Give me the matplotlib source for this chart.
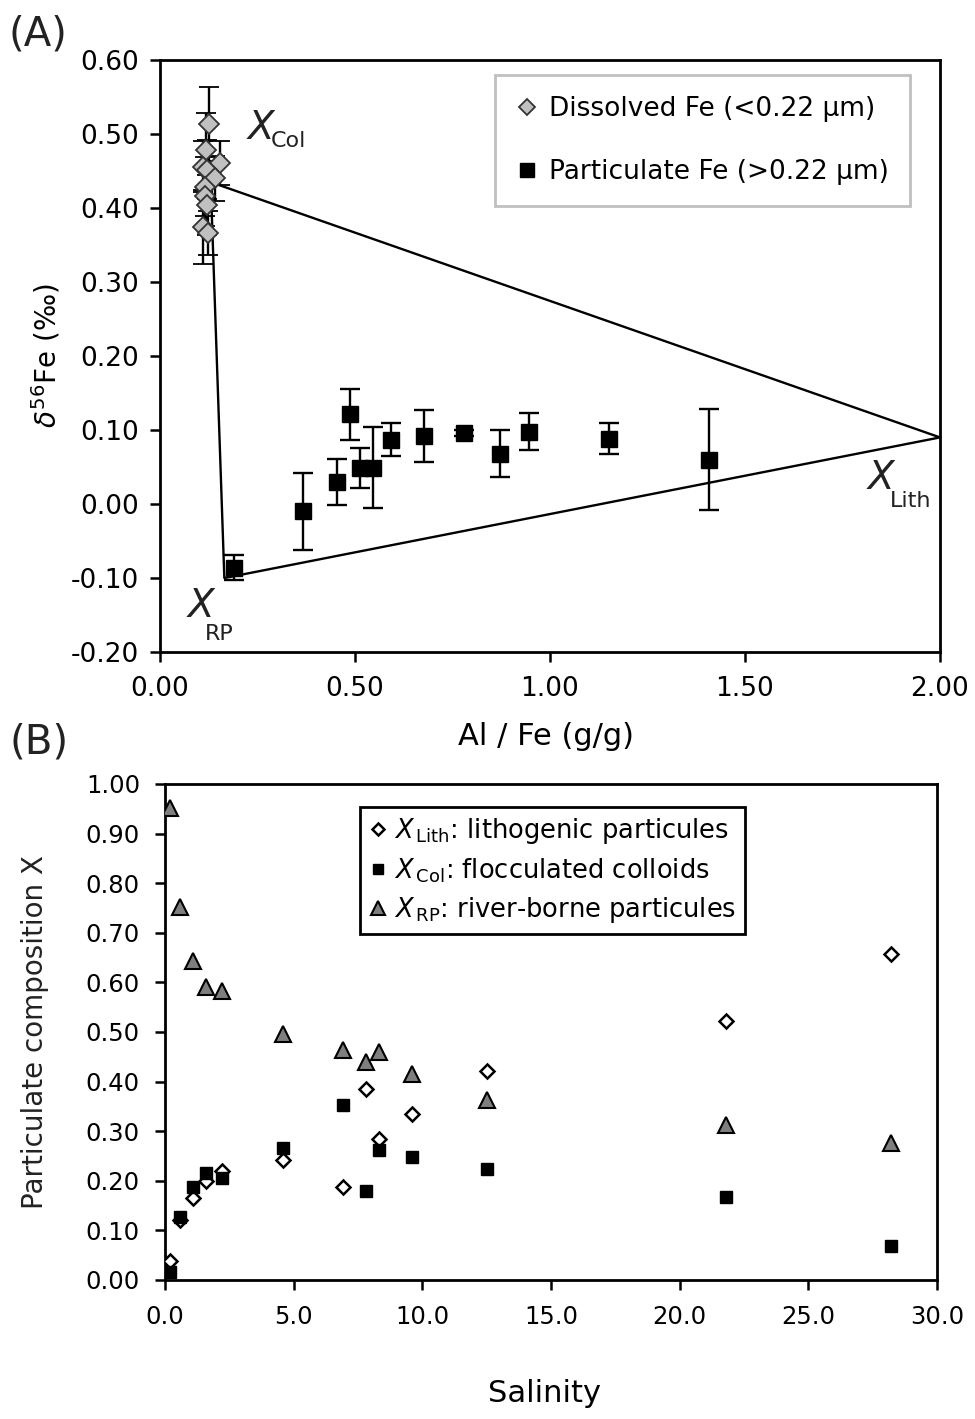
import matplotlib
matplotlib.use("Agg")
import matplotlib.pyplot as plt
from matplotlib.lines import Line2D

plt.rcParams['font.family'] = ['DejaVu Sans']

# panel A: dissolved Fe (diamonds)
diss_alfe = [0.126, 0.118, 0.154, 0.111, 0.120, 0.141, 0.115, 0.115, 0.120, 0.111, 0.124]
diss_d56 = [0.513, 0.479, 0.461, 0.456, 0.452, 0.440, 0.429, 0.416, 0.404, 0.375, 0.366]
diss_err = [0.050, 0.050, 0.030, 0.035, 0.040, 0.030, 0.040, 0.040, 0.040, 0.050, 0.030]

# panel A: particulate Fe (squares)
part_alfe = [0.19, 0.366, 0.455, 0.488, 0.513, 0.547, 0.593, 0.678, 0.780, 0.873, 0.946, 1.152, 1.408]
part_d56 = [-0.086, -0.010, 0.030, 0.121, 0.049, 0.049, 0.087, 0.092, 0.096, 0.068, 0.098, 0.088, 0.060]
part_err = [0.017, 0.052, 0.031, 0.035, 0.027, 0.055, 0.022, 0.035, 0.004, 0.032, 0.025, 0.021, 0.068]

# mixing triangle end-members
end_names = ['Col', 'Lith', 'RP']
end_alfe = [0.13, 2.00, 0.165]
end_d56 = [0.435, 0.090, -0.100]

# panel B: composition vs salinity
salinity = [0.2, 0.6, 1.1, 1.6, 2.2, 4.6, 6.9, 7.8, 8.3, 9.6, 12.5, 21.8, 28.2]
x_lith = [0.039, 0.121, 0.166, 0.200, 0.220, 0.241, 0.188, 0.384, 0.285, 0.334, 0.421, 0.523, 0.657]
x_col = [0.015, 0.127, 0.187, 0.215, 0.205, 0.267, 0.352, 0.180, 0.262, 0.248, 0.223, 0.168, 0.068]
x_rp = [0.952, 0.751, 0.644, 0.590, 0.583, 0.496, 0.463, 0.439, 0.459, 0.416, 0.362, 0.312, 0.276]

fig = plt.figure(figsize=(9.75, 14.19), dpi=100)
ax1 = fig.add_axes([0.1641, 0.5405, 0.800, 0.4172])
ax2 = fig.add_axes([0.1692, 0.0980, 0.7918, 0.3495])

# ---- panel A ----
tri_x = end_alfe + [end_alfe[0]]
tri_y = end_d56 + [end_d56[0]]
ax1.plot(tri_x, tri_y, color='black', lw=1.7, zorder=1)

ax1.errorbar(diss_alfe, diss_d56, yerr=diss_err, fmt='D', ms=10, mfc='#c0c0c0', mec='#333333',
             mew=1.3, ecolor='black', elinewidth=1.7, capsize=7, capthick=1.7, zorder=3)
ax1.errorbar(part_alfe, part_d56, yerr=part_err, fmt='s', ms=11, mfc='black', mec='black',
             ecolor='black', elinewidth=1.7, capsize=7, capthick=1.7, zorder=3)

# end-member labels
lab_pos = {'Col': (0.225, 0.493, 0.283, 0.482),
           'Lith': (1.815, 0.020, 1.872, -0.004),
           'RP': (0.072, -0.153, 0.115, -0.184)}
for name in end_names:
    xx, yy, xs, ys = lab_pos[name]
    ax1.text(xx, yy, 'X', fontsize=28, style='italic', color='#222222')
    ax1.text(xs, ys, name, fontsize=16, color='#222222')

ax1.set_xlim(0, 2.0)
ax1.set_ylim(-0.2, 0.6)
ax1.set_xticks([0, 0.5, 1.0, 1.5, 2.0])
ax1.set_yticks([-0.2, -0.1, 0, 0.1, 0.2, 0.3, 0.4, 0.5, 0.6])
ax1.xaxis.set_major_formatter(matplotlib.ticker.FormatStrFormatter('%.2f'))
ax1.yaxis.set_major_formatter(matplotlib.ticker.FormatStrFormatter('%.2f'))
ax1.tick_params(labelsize=19, length=7, width=1.8, direction='out')
ax1.tick_params(axis='y', pad=8)
ax1.tick_params(axis='x', pad=10)
for sp in ax1.spines.values():
    sp.set_linewidth(2)
ax1.set_xlabel('Al / Fe (g/g)', fontsize=22)
ax1.xaxis.set_label_coords(0.495, -0.118)
ax1.set_ylabel(r'$\delta^{56}$Fe (‰)', fontsize=20)
ax1.yaxis.set_label_coords(-0.125, 0.5)

h_diss = Line2D([], [], ls='none', marker='D', ms=8, mfc='#c0c0c0', mec='#333333', mew=1.3)
h_part = Line2D([], [], ls='none', marker='s', ms=10, mfc='black', mec='black')
leg1 = ax1.legend([h_diss, h_part], ['Dissolved Fe (<0.22 \u03bcm)', 'Particulate Fe (>0.22 \u03bcm)'],
                  loc='upper right', bbox_to_anchor=(0.962, 0.975), borderaxespad=0, fontsize=19,
                  handlelength=0.8, handletextpad=0.45, labelspacing=1.4, borderpad=0.8,
                  fancybox=False, framealpha=1, edgecolor='#c0c0c0')
leg1.get_frame().set_linewidth(2)

fig.text(0.009, 0.968, '(A)', fontsize=29, color='#222222')

# ---- panel B ----
ax2.plot(salinity, x_lith, 'D', ms=7.5, mfc='white', mec='black', mew=1.8,
         label=r'$\mathit{X}_{\,\mathrm{Lith}}$: lithogenic particules', zorder=3)
ax2.plot(salinity, x_col, 's', ms=8.5, mfc='black', mec='black',
         label=r'$\mathit{X}_{\,\mathrm{Col}}$: flocculated colloids', zorder=3)
ax2.plot(salinity, x_rp, '^', ms=12, mfc='#7f7f7f', mec='black', mew=1.5,
         label=r'$\mathit{X}_{\,\mathrm{RP}}$: river-borne particules', zorder=3)

ax2.set_xlim(0, 30)
ax2.set_ylim(0, 1.0)
ax2.set_xticks([0, 5, 10, 15, 20, 25, 30])
ax2.set_yticks([i / 10 for i in range(11)])
ax2.xaxis.set_major_formatter(matplotlib.ticker.FormatStrFormatter('%.1f'))
ax2.yaxis.set_major_formatter(matplotlib.ticker.FormatStrFormatter('%.2f'))
ax2.tick_params(labelsize=17.5, length=7, width=1.8, direction='out')
ax2.tick_params(axis='y', pad=11)
ax2.tick_params(axis='x', pad=11)
for sp in ax2.spines.values():
    sp.set_linewidth(2)
ax2.set_xlabel('Salinity', fontsize=22)
ax2.xaxis.set_label_coords(0.492, -0.2)
ax2.set_ylabel('Particulate composition X', fontsize=20, color='#222222')
ax2.yaxis.set_label_coords(-0.15, 0.5)

leg2 = ax2.legend(loc='upper center', bbox_to_anchor=(0.502, 0.954), borderaxespad=0, fontsize=18.5,
                  handlelength=0.7, handletextpad=0.3, labelspacing=0.4, borderpad=0.35,
                  fancybox=False, framealpha=1, edgecolor='black', markerscale=0.8)
leg2.get_frame().set_linewidth(2)

fig.text(0.010, 0.469, '(B)', fontsize=29, color='#222222')

fig.savefig('out.png', dpi=100)
